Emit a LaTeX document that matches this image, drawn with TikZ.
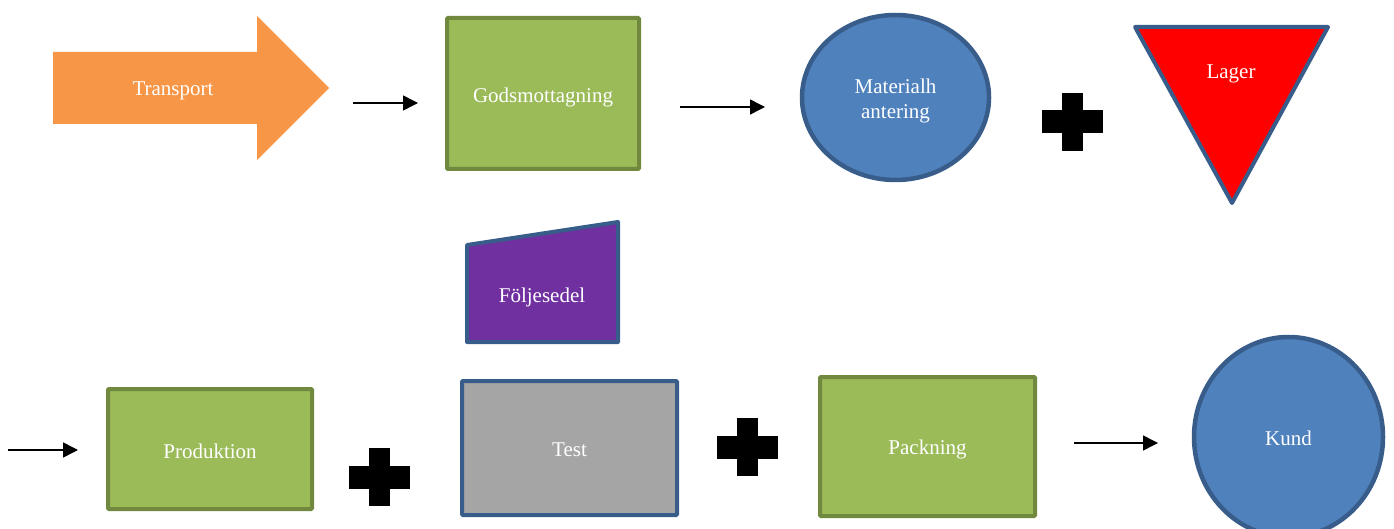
\documentclass[tikz,border=0pt]{standalone}
\usepackage{fontspec}
\setmainfont{Liberation Serif}
\usetikzlibrary{arrows.meta,shapes.geometric}
\definecolor{orng}{HTML}{F79646}
\definecolor{grn}{HTML}{9BBB59}
\definecolor{grnb}{HTML}{71893F}
\definecolor{blu}{HTML}{4F81BD}
\definecolor{blub}{HTML}{385D8A}
\definecolor{gry}{HTML}{A5A5A5}
\definecolor{prp}{HTML}{7030A0}
\tikzset{
  lbl/.style={text=white, font=\fontsize{21}{25}\selectfont, inner sep=0pt, align=center},
  gbox/.style={rectangle, draw=grnb, fill=grn, line width=4pt, rounded corners=1pt},
  bbox/.style={rectangle, draw=blub, line width=4pt, rounded corners=1pt},
  oval/.style={ellipse, draw=blub, fill=blu, line width=4.5pt},
  shapeline/.style={draw=blub, line width=4pt, line join=round},
  conn/.style={line width=1.5pt, -{Triangle[length=15pt,width=15pt]}},
  plussign/.pic={\fill[black] (-30.5,-11.5) rectangle (30.5,11.5);
                 \fill[black] (-10.5,-29) rectangle (10.5,29);}
}
\begin{document}
\begin{tikzpicture}[x=1pt,y=-1pt]
\useasboundingbox (0,0) rectangle (1394,529);
% Transport block arrow
\fill[orng] (53,52) -- (257,52) -- (257,16) -- (329,88) -- (257,160) -- (257,124) -- (53,124) -- cycle;
\node[lbl] (tr) at (173,91) {Transport};
% top row
\node[gbox, minimum width=192pt, minimum height=151pt] (gm) at (543,93.5) {};
\node[lbl, yshift=-4pt] (gmt) at (gm) {Godsmottagning};
\node[oval, minimum width=187pt, minimum height=165pt] (mh) at (895.5,97.5) {};
\node[lbl, yshift=-3pt] (mht) at (mh) {Materialh\\antering};
\pic at (1072.5,122) {plussign};
\filldraw[shapeline, fill=red] (1135,27) -- (1328,27) -- (1232,203) -- cycle;
\node[lbl] (lg) at (1231,74) {Lager};
% Följesedel
\filldraw[shapeline, fill=prp] (467,245) -- (618,222) -- (618,342) -- (467,342) -- cycle;
\node[lbl] (fs) at (542,297.5) {Följesedel};
% bottom row
\node[gbox, minimum width=204pt, minimum height=120pt] (pr) at (210,449) {};
\node[lbl, yshift=-2pt] (prt) at (pr) {Produktion};
\pic at (379,477) {plussign};
\node[bbox, fill=gry, minimum width=215pt, minimum height=134pt] (te) at (569.5,448) {};
\node[lbl, yshift=-2pt] (tet) at (te) {Test};
\pic at (747,447) {plussign};
\node[gbox, minimum width=215pt, minimum height=139pt] (pk) at (927.5,446.5) {};
\node[lbl, yshift=-2.5pt] (pkt) at (pk) {Packning};
\node[oval, minimum width=189pt, minimum height=200pt] (kd) at (1288.5,437) {};
\node[lbl, yshift=-1pt] (kdt) at (kd) {Kund};
% connectors
\coordinate (a1s) at (353,103); \coordinate (a1e) at (418,103);
\coordinate (a2s) at (680,107); \coordinate (a2e) at (765,107);
\coordinate (a3s) at (8,450);   \coordinate (a3e) at (78,450);
\coordinate (a4s) at (1074,443); \coordinate (a4e) at (1158,443);
\draw[conn] (a1s) -- (a1e);
\draw[conn] (a2s) -- (a2e);
\draw[conn] (a3s) -- (a3e);
\draw[conn] (a4s) -- (a4e);
\end{tikzpicture}
\end{document}
